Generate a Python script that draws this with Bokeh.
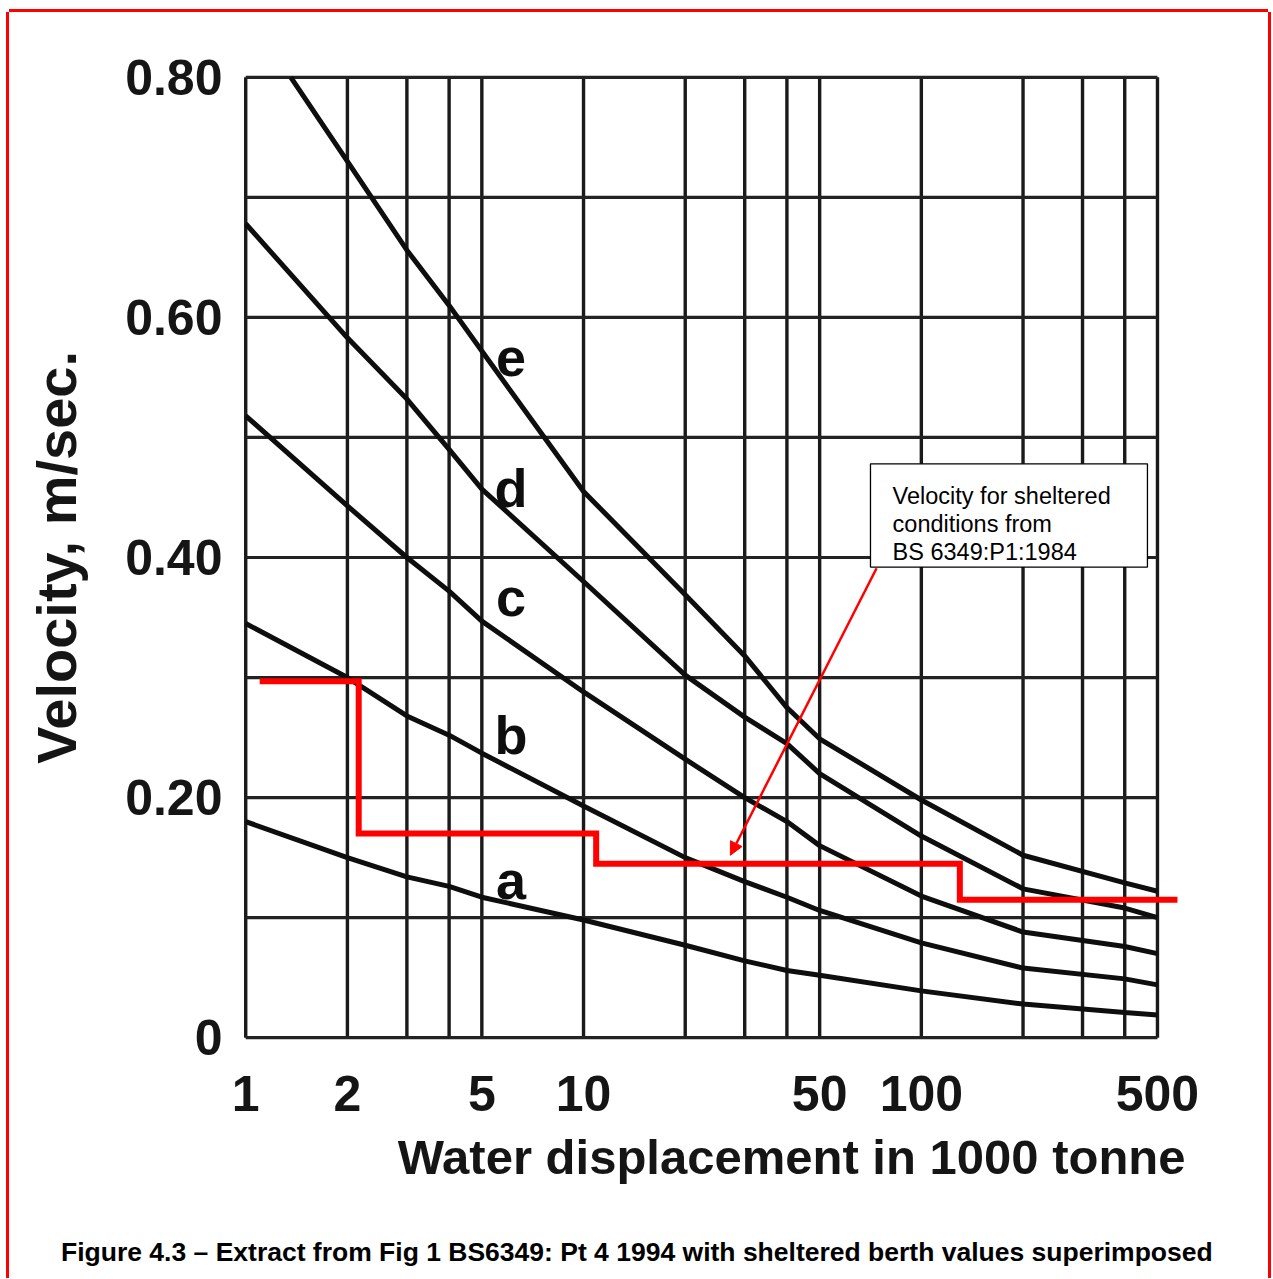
from bokeh.plotting import figure
from bokeh.layouts import column
from bokeh.models import (FixedTicker, CustomJSTickFormatter, Title, Arrow, NormalHead,
                          ColumnDataSource, Div)
from bokeh.core.properties import value
from bokeh.embed import file_html
from bokeh.resources import INLINE

# ---------------- data ----------------
displacement = [1, 2, 3, 4, 5, 10, 20, 30, 40, 50, 100, 200, 400, 500]
curve_a = [0.180, 0.150, 0.134, 0.126, 0.117, 0.098, 0.077, 0.064, 0.056, 0.052, 0.039, 0.028, 0.021, 0.019]
curve_b = [0.345, 0.300, 0.268, 0.252, 0.237, 0.193, 0.150, 0.130, 0.117, 0.106, 0.079, 0.058, 0.049, 0.044]
curve_c = [0.518, 0.443, 0.400, 0.372, 0.347, 0.288, 0.232, 0.200, 0.180, 0.160, 0.118, 0.088, 0.076, 0.070]
curve_d = [0.678, 0.583, 0.532, 0.490, 0.457, 0.380, 0.302, 0.267, 0.245, 0.220, 0.168, 0.124, 0.108, 0.100]
curve_e_x = [1.36, 2, 3, 4, 5, 10, 20, 30, 40, 50, 100, 200, 400, 500]
curve_e = [0.800, 0.730, 0.656, 0.610, 0.572, 0.455, 0.369, 0.318, 0.275, 0.249, 0.198, 0.152, 0.129, 0.122]

sheltered_edges = [1.1, 2.16, 10.9, 130, 573]
sheltered_velocity = [0.297, 0.170, 0.145, 0.115]

curve_names = ["a", "b", "c", "d", "e"]

x_tick_values = [1, 2, 5, 10, 50, 100, 500]
x_grid_values = [1, 2, 3, 4, 5, 10, 20, 30, 40, 50, 100, 200, 300, 400, 500]
y_tick_values = [0, 0.2, 0.4, 0.6, 0.8]
y_grid_values = [0, 0.1, 0.2, 0.3, 0.4, 0.5, 0.6, 0.7, 0.8]

X_MIN, X_MAX = 1, 500
Y_MIN, Y_MAX = 0, 0.8

x_title = "Water displacement in 1000 tonne"
y_title = "Velocity, m/sec."
caption = "Figure 4.3 \u2013 Extract from Fig 1 BS6349: Pt 4 1994 with sheltered berth values superimposed"
note_lines = ["Velocity for sheltered", "conditions from", "BS 6349:P1:1984"]

# ---------------- styling ----------------
FIG_FONT = "Liberation Sans"
INK = "#0e0e0e"
RED = "#ff0000"

p = figure(width=1259, height=1220, x_axis_type="log",
           x_range=(0.985, 585), y_range=(-0.004, 0.804),
           output_backend="svg", toolbar_location=None,
           min_border_left=234, min_border_right=88, min_border_top=60, min_border_bottom=190)
p.outline_line_color = None
p.xgrid.grid_line_color = None
p.ygrid.grid_line_color = None
p.background_fill_color = "white"
p.border_fill_color = "white"

# grid drawn from the tick arrays, bounded by the chart box
p.segment(x0=x_grid_values, y0=[Y_MIN] * len(x_grid_values), x1=x_grid_values, y1=[Y_MAX] * len(x_grid_values),
          line_color="#1a1a1a", line_width=3.4)
p.segment(x0=[X_MIN] * len(y_grid_values), y0=y_grid_values, x1=[X_MAX] * len(y_grid_values), y1=y_grid_values,
          line_color="#232323", line_width=3.2)

# curves
for ys in (curve_a, curve_b, curve_c, curve_d):
    p.line(displacement, ys, line_color=INK, line_width=5)
p.line(curve_e_x, curve_e, line_color=INK, line_width=5)

# curve letters
lab_src = ColumnDataSource(dict(x=[6.1] * 5, y=[0.131, 0.252, 0.367, 0.4575, 0.567], t=curve_names))
p.text(x="x", y="y", text="t", source=lab_src, text_font=value(FIG_FONT), text_font_size="54px",
       text_font_style="bold", text_color=INK, text_align="center", text_baseline="alphabetic")

# sheltered berth step line
p.step(x=sheltered_edges, y=sheltered_velocity + [sheltered_velocity[-1]], mode="after",
       line_color=RED, line_width=6, line_join="miter")

# note box
p.quad(left=[70.7], right=[467], top=[0.478], bottom=[0.392], fill_color="white", line_color="black", line_width=1.3)
note_src = ColumnDataSource(dict(x=[82.2] * 3, y=[0.451, 0.4277, 0.4043], t=note_lines))
p.text(x="x", y="y", text="t", source=note_src, text_font=value("Liberation Sans"), text_font_size="23.5px",
       text_color="black", text_align="left", text_baseline="alphabetic")

p.add_layout(Arrow(end=NormalHead(size=13, fill_color=RED, line_color=RED, line_width=1),
                   x_start=73.7, y_start=0.391, x_end=27.2, y_end=0.152,
                   line_color=RED, line_width=2.5))

# axes
xa = p.xaxis[0]
xa.ticker = FixedTicker(ticks=x_tick_values)
xa.formatter = CustomJSTickFormatter(code="return tick.toFixed(0);")
ya = p.yaxis[0]
ya.ticker = FixedTicker(ticks=y_tick_values)
ya.formatter = CustomJSTickFormatter(code="return tick == 0 ? '0' : tick.toFixed(2);")
for ax in (xa, ya):
    ax.axis_line_color = None
    ax.major_tick_line_color = None
    ax.minor_tick_line_color = None
    ax.major_tick_out = 0
    ax.major_tick_in = 0
    ax.major_label_text_font = FIG_FONT
    ax.major_label_text_font_size = "50px"
    ax.major_label_text_font_style = "bold"
    ax.major_label_text_color = "#151515"
xa.major_label_standoff = 33
ya.major_label_standoff = 21

ya.axis_label = y_title
ya.axis_label_standoff = 34
ya.axis_label_text_font = FIG_FONT
ya.axis_label_text_font_size = "56px"
ya.axis_label_text_font_style = "bold"
ya.axis_label_text_color = "#151515"

# x axis title, right-aligned under the chart like the original
p.add_layout(Title(text=x_title, align="right", offset=-5, standoff=28,
                   text_font=FIG_FONT, text_font_size="49px", text_font_style="bold",
                   text_color="#151515"), "below")

# figure caption under the chart
cap_html = ('<div style="padding:5px 0 0 52px;font-family:\'Liberation Sans\',Arial,sans-serif;'
            'font-size:26.5px;font-weight:bold;line-height:30px;color:#000;white-space:nowrap;">'
            + caption + '</div>')
cap_div = Div(text=cap_html, width=1259, height=46, margin=(0, 0, 0, 0))

page = column(p, cap_div, spacing=0,
              styles={"margin-left": "9px", "margin-top": "12px",
                      "box-shadow": "-3px 0 0 0 #ff0000, 3px 0 0 0 #ff0000, 0 -3px 0 0 #ff0000"})

open("out.html", "w").write(file_html(page, INLINE))
